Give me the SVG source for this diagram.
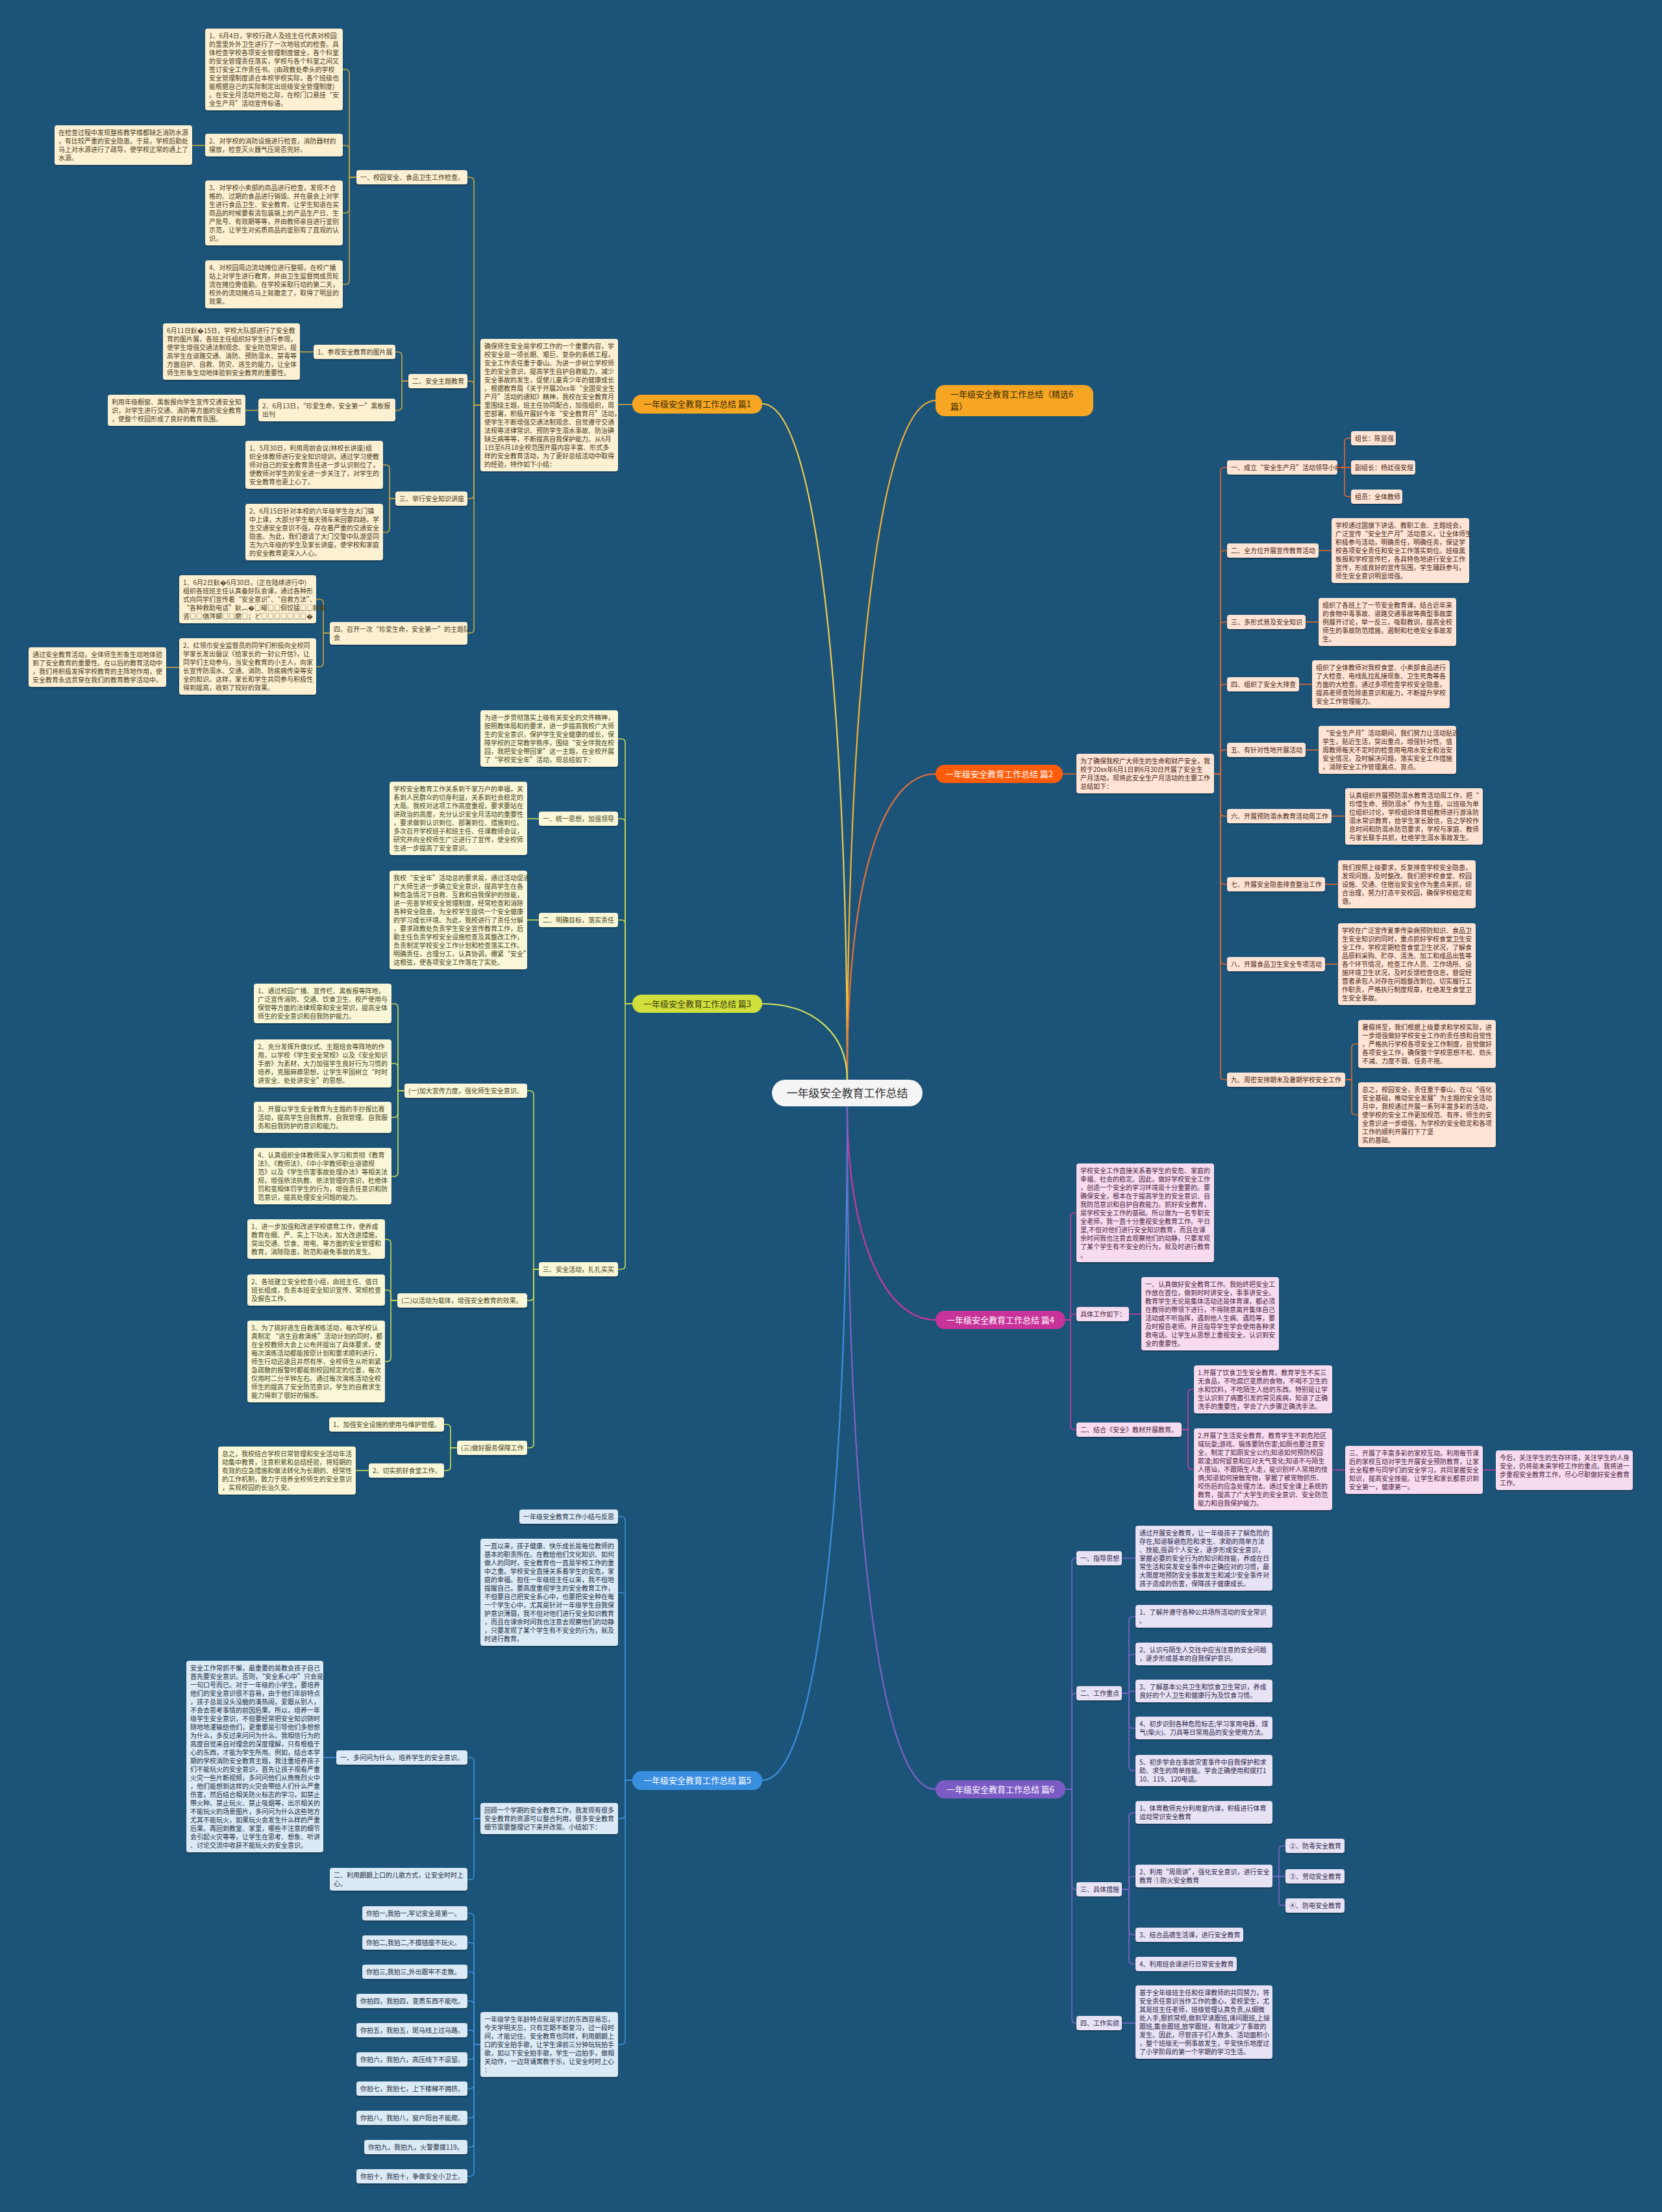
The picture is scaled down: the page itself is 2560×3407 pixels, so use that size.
<svg xmlns="http://www.w3.org/2000/svg" width="2560" height="3407" viewBox="0 0 2560 3407">
<defs>
<filter id="sh" x="-5%" y="-10%" width="110%" height="130%"><feDropShadow dx="0" dy="1.5" stdDeviation="1" flood-color="#000" flood-opacity="0.35"/></filter>
<style>
text{font-family:"Noto Sans CJK SC","Noto Sans","Liberation Sans",sans-serif;font-size:10px}
.n rect{rx:4px;filter:url(#sh)}
.k1 rect{fill:#fcf0d3}.k1 text{fill:#4a3c1c}
.k2 rect{fill:#fde4d5}.k2 text{fill:#4b2716}
.k3 rect{fill:#f9f7d8}.k3 text{fill:#474620}
.k4 rect{fill:#f7dbef}.k4 text{fill:#4a1f3e}
.k5 rect{fill:#dceaf6}.k5 text{fill:#1e2e44}
.k6 rect{fill:#e8e2f5}.k6 text{fill:#2e2748}
.lb text{font-size:13px}
.lb rect{rx:14px}
</style>
</defs>
<rect width="2560" height="3407" fill="#1c5479"/>
<g id="connectors" fill="none" stroke-width="1.6">
<path d="M1305,1663 C1305,1100 1260,622 1174,622" stroke="#f2c94c" stroke-width="2.2"/>
<path d="M1305,1663 C1305,1100 1350,617 1441,617" stroke="#f5b033" stroke-width="2.2"/>
<path d="M1305,1663 C1305,1350 1360,1192 1441,1192" stroke="#e8703a" stroke-width="2.2"/>
<path d="M1305,1663 C1305,1590 1250,1546 1174,1546" stroke="#d5e35a" stroke-width="2.2"/>
<path d="M1305,1704 C1305,1900 1360,2033 1441,2033" stroke="#c8399e" stroke-width="2.2"/>
<path d="M1305,1704 C1305,2300 1260,2742 1174,2742" stroke="#3d8fdc" stroke-width="2.2"/>
<path d="M1305,1704 C1305,2300 1350,2756 1441,2756" stroke="#7d62c8" stroke-width="2.2"/>
<g stroke="#c9a63e">
<path d="M974,623H952"/>
<path d="M740,624H730V279Q730,273 724,273H720"/>
<path d="M740,624H730V593Q730,587 724,587H720"/>
<path d="M740,624H730V762Q730,768 724,768H720"/>
<path d="M740,624H730V969Q730,975 724,975H720"/>
<path d="M549,273H538V113Q538,107 532,107H528"/>
<path d="M549,273H538V230Q538,224 532,224H528"/>
<path d="M549,273H538V322Q538,328 532,328H528"/>
<path d="M549,273H538V432Q538,438 532,438H528"/>
<path d="M316,224H296"/>
<path d="M629,587H619V548Q619,542 613,542H609"/>
<path d="M629,587H619V626Q619,632 613,632H609"/>
<path d="M483,542H462"/>
<path d="M398,632H378"/>
<path d="M609,768H600V722Q600,716 594,716H590"/>
<path d="M609,768H600V814Q600,820 594,820H590"/>
<path d="M508,975H498V929Q498,923 492,923H487"/>
<path d="M508,975H498V1021Q498,1027 492,1027H487"/>
<path d="M276,1028H256"/>
</g>
<g stroke="#c8dd52">
<path d="M974,1546H963V1144Q963,1138 957,1138H952"/>
<path d="M974,1546H963V1267Q963,1261 957,1261H952"/>
<path d="M974,1546H963V1423Q963,1417 957,1417H952"/>
<path d="M974,1546H963V1949Q963,1955 957,1955H952"/>
<path d="M830,1261H812"/>
<path d="M830,1417H812"/>
<path d="M830,1955H822V1686Q822,1680 816,1680H812"/>
<path d="M830,1955H822V1997Q822,2003 816,2003H812"/>
<path d="M830,1955H822V2224Q822,2230 816,2230H812"/>
<path d="M623,1680H613V1552Q613,1546 607,1546H603"/>
<path d="M623,1680H613V1644Q613,1638 607,1638H603"/>
<path d="M623,1680H613V1715Q613,1721 607,1721H603"/>
<path d="M623,1680H613V1806Q613,1812 607,1812H603"/>
<path d="M612,2003H602V1915Q602,1909 596,1909H593"/>
<path d="M612,2003H602V1993Q602,1987 596,1987H593"/>
<path d="M612,2003H602V2091Q602,2097 596,2097H593"/>
<path d="M704,2230H694V2200Q694,2194 688,2194H684"/>
<path d="M704,2230H694V2259Q694,2265 688,2265H684"/>
<path d="M568,2265H548"/>
</g>
<g stroke="#3c8fdc">
<path d="M974,2742H963V2342Q963,2336 957,2336H952"/>
<path d="M974,2742H963V2459Q963,2453 957,2453H952"/>
<path d="M974,2742H963V2795Q963,2801 957,2801H952"/>
<path d="M974,2742H963V3143Q963,3149 957,3149H952"/>
<path d="M740,2801H730V2713Q730,2707 724,2707H720"/>
<path d="M740,2801H730V2889Q730,2895 724,2895H720"/>
<path d="M518,2707H498"/>
<path d="M740,3149H730V2953Q730,2947 724,2947H720"/>
<path d="M740,3149H730V2998Q730,2992 724,2992H720"/>
<path d="M740,3149H730V3043Q730,3037 724,3037H720"/>
<path d="M740,3149H730V3088Q730,3082 724,3082H720"/>
<path d="M740,3149H730V3133Q730,3127 724,3127H720"/>
<path d="M740,3149H730V3166Q730,3172 724,3172H720"/>
<path d="M740,3149H730V3211Q730,3217 724,3217H720"/>
<path d="M740,3149H730V3256Q730,3262 724,3262H720"/>
<path d="M740,3149H730V3301Q730,3307 724,3307H720"/>
<path d="M740,3149H730V3346Q730,3352 724,3352H720"/>
</g>
<g stroke="#e0692d">
<path d="M1637,1192H1658"/>
<path d="M1870,1192H1880V726Q1880,720 1886,720H1890"/>
<path d="M1870,1192H1880V854Q1880,848 1886,848H1890"/>
<path d="M1870,1192H1880V964Q1880,958 1886,958H1890"/>
<path d="M1870,1192H1880V1060Q1880,1054 1886,1054H1890"/>
<path d="M1870,1192H1880V1161Q1880,1155 1886,1155H1890"/>
<path d="M1870,1192H1880V1251Q1880,1257 1886,1257H1890"/>
<path d="M1870,1192H1880V1356Q1880,1362 1886,1362H1890"/>
<path d="M1870,1192H1880V1479Q1880,1485 1886,1485H1890"/>
<path d="M1870,1192H1880V1657Q1880,1663 1886,1663H1890"/>
<path d="M2060,720H2071V681Q2071,675 2077,675H2081"/>
<path d="M2060,720H2081"/>
<path d="M2060,720H2071V759Q2071,765 2077,765H2081"/>
<path d="M2031,848H2051"/>
<path d="M2011,958H2031"/>
<path d="M2001,1054H2021"/>
<path d="M2011,1155H2031"/>
<path d="M2051,1257H2072"/>
<path d="M2041,1362H2061"/>
<path d="M2041,1485H2061"/>
<path d="M2072,1663H2082V1614Q2082,1608 2088,1608H2092"/>
<path d="M2072,1663H2082V1711Q2082,1717 2088,1717H2092"/>
</g>
<g stroke="#c43d9d">
<path d="M1641,2033H1649V1874Q1649,1868 1655,1868H1658"/>
<path d="M1641,2033H1649V2030Q1649,2024 1655,2024H1658"/>
<path d="M1641,2033H1649V2196Q1649,2202 1655,2202H1658"/>
<path d="M1739,2024H1758"/>
<path d="M1820,2202H1830V2146Q1830,2140 1836,2140H1839"/>
<path d="M1820,2202H1830V2257Q1830,2263 1836,2263H1839"/>
<path d="M2052,2264H2072"/>
<path d="M2284,2264H2304"/>
</g>
<g stroke="#7b65c9">
<path d="M1641,2756H1651V2406Q1651,2400 1657,2400H1658"/>
<path d="M1641,2756H1651V2614Q1651,2608 1657,2608H1658"/>
<path d="M1641,2756H1651V2904Q1651,2910 1657,2910H1658"/>
<path d="M1641,2756H1651V3110Q1651,3116 1657,3116H1658"/>
<path d="M1728,2400H1749"/>
<path d="M1728,2608H1739V2496Q1739,2490 1745,2490H1749"/>
<path d="M1728,2608H1739V2554Q1739,2548 1745,2548H1749"/>
<path d="M1728,2608H1739V2605H1749"/>
<path d="M1728,2608H1739V2656Q1739,2662 1745,2662H1749"/>
<path d="M1728,2608H1739V2721Q1739,2727 1745,2727H1749"/>
<path d="M1728,2910H1739V2798Q1739,2792 1745,2792H1749"/>
<path d="M1728,2910H1739V2896Q1739,2890 1745,2890H1749"/>
<path d="M1728,2910H1739V2974Q1739,2980 1745,2980H1749"/>
<path d="M1728,2910H1739V3019Q1739,3025 1745,3025H1749"/>
<path d="M1960,2890H1970V2849Q1970,2843 1976,2843H1980"/>
<path d="M1960,2890H1980"/>
<path d="M1960,2890H1970V2929Q1970,2935 1976,2935H1980"/>
<path d="M1728,3116H1749"/>
</g>
</g>

<g id="root"><rect x="1189" y="1663" width="232" height="41" rx="20.5" fill="#f5f5f5"/><text x="1305" y="1690" text-anchor="middle" style="font-size:17px" fill="#333">一年级安全教育工作总结</text></g>

<g id="b1" class="lb"><rect x="974" y="608" width="200" height="29" fill="#f6a623"/><text x="1074" y="627" text-anchor="middle" fill="#3a2a05">一年级安全教育工作总结 篇1</text></g>
<g id="b0" class="lb"><rect x="1441" y="593" width="243" height="48" fill="#f6a623"/><text x="1464" y="612" fill="#3a2a05"><tspan x="1464">一年级安全教育工作总结（精选6</tspan><tspan x="1464" dy="19">篇）</tspan></text></g>
<g id="b2" class="lb"><rect x="1441" y="1178" width="196" height="28" fill="#ff5c0a"/><text x="1539" y="1197" text-anchor="middle" fill="#fff">一年级安全教育工作总结 篇2</text></g>
<g id="b3" class="lb"><rect x="974" y="1532" width="200" height="28" fill="#cfdf3c"/><text x="1074" y="1551" text-anchor="middle" fill="#3a3a10">一年级安全教育工作总结 篇3</text></g>
<g id="b4" class="lb"><rect x="1441" y="2019" width="200" height="28" fill="#c8339a"/><text x="1541" y="2038" text-anchor="middle" fill="#fff">一年级安全教育工作总结 篇4</text></g>
<g id="b5" class="lb"><rect x="974" y="2728" width="200" height="29" fill="#3a8ee0"/><text x="1074" y="2747" text-anchor="middle" fill="#fff">一年级安全教育工作总结 篇5</text></g>
<g id="b6" class="lb"><rect x="1441" y="2742" width="200" height="28" fill="#7c5cc4"/><text x="1541" y="2761" text-anchor="middle" fill="#fff">一年级安全教育工作总结 篇6</text></g>

<!-- 篇1 -->
<g id="p1-intro" class="n k1"><rect x="740" y="522" width="212" height="204"/><text y="537"><tspan x="746">确保师生安全是学校工作的一个重要内容，学</tspan><tspan x="746" dy="13">校安全是一项长期、艰巨、复杂的系统工程，</tspan><tspan x="746" dy="13">安全工作责任重于泰山。为进一步树立学校师</tspan><tspan x="746" dy="13">生的安全意识，提高学生自护自救能力，减少</tspan><tspan x="746" dy="13">安全事故的发生，促使儿童青少年的健康成长</tspan><tspan x="746" dy="13">。根据教育局《关于开展20xx年“全国安全生</tspan><tspan x="746" dy="13">产月”活动的通知》精神，我校在安全教育月</tspan><tspan x="746" dy="13">里围绕主题，班主任协同配合，加强组织，周</tspan><tspan x="746" dy="13">密部署，积极开展好今年“安全教育月”活动，</tspan><tspan x="746" dy="13">使学生不断增强交通法制观念、自觉遵守交通</tspan><tspan x="746" dy="13">法规等法律常识、预防学生溺水事故、防治碘</tspan><tspan x="746" dy="13">缺乏病等等，不断提高自我保护能力。从6月</tspan><tspan x="746" dy="13">1日至6月18全校范围开展内容丰富、形式多</tspan><tspan x="746" dy="13">样的安全教育活动，为了更好总结活动中取得</tspan><tspan x="746" dy="13">的经验，特作如下小结：</tspan></text></g>
<g id="p1-s1" class="n k1"><rect x="549" y="262" width="171" height="22"/><text x="555" y="277">一、校园安全、食品卫生工作检查。</text></g>
<g id="p1-s2" class="n k1"><rect x="629" y="576" width="91" height="22"/><text x="635" y="591">二、安全主题教育</text></g>
<g id="p1-s3" class="n k1"><rect x="609" y="757" width="111" height="22"/><text x="615" y="772">三、举行安全知识讲座</text></g>
<g id="p1-s4" class="n k1"><rect x="508" y="958" width="212" height="35"/><text y="973"><tspan x="514">四、召开一次“珍爱生命，安全第一”的主题队</tspan><tspan x="514" dy="13">会</tspan></text></g>
<g id="p1-s1c1" class="n k1"><rect x="316" y="44" width="212" height="126"/><text y="59"><tspan x="322">1、6月4日，学校行政人及班主任代表对校园</tspan><tspan x="322" dy="13">的里里外外卫生进行了一次地毯式的检查。具</tspan><tspan x="322" dy="13">体检查学校各项安全管理制度健全，各个科室</tspan><tspan x="322" dy="13">的安全管理责任落实，学校与各个科室之间又</tspan><tspan x="322" dy="13">签订安全工作责任书。(由政教处牵头的学校</tspan><tspan x="322" dy="13">安全管理制度适合本校学校实际，各个班级也</tspan><tspan x="322" dy="13">能根据自己的实际制定出班级安全管理制度)</tspan><tspan x="322" dy="13">。在安全月活动开始之际，在校门口悬挂“安</tspan><tspan x="322" dy="13">全生产月”活动宣传标语。</tspan></text></g>
<g id="p1-s1c2" class="n k1"><rect x="316" y="206" width="212" height="35"/><text y="221"><tspan x="322">2、对学校的消防设施进行检查，消防器材的</tspan><tspan x="322" dy="13">摆放，检查灭火器气压是否完好。</tspan></text></g>
<g id="p1-s1c2g" class="n k1"><rect x="84" y="193" width="212" height="61"/><text y="208"><tspan x="90">在检查过程中发现整栋教学楼都缺乏消防水源</tspan><tspan x="90" dy="13">，有比较严重的安全隐患。于是，学校后勤处</tspan><tspan x="90" dy="13">马上对水源进行了疏导，使学校正常的通上了</tspan><tspan x="90" dy="13">水源。</tspan></text></g>
<g id="p1-s1c3" class="n k1"><rect x="316" y="278" width="212" height="100"/><text y="293"><tspan x="322">3、对学校小卖部的商品进行检查，发现不合</tspan><tspan x="322" dy="13">格的、过期的食品进行销毁。并在晨会上对学</tspan><tspan x="322" dy="13">生进行食品卫生、安全教育。让学生知道在买</tspan><tspan x="322" dy="13">商品的时候要看清包装袋上的产品生产日、生</tspan><tspan x="322" dy="13">产批号、有效期等等，并由教师亲自进行鉴别</tspan><tspan x="322" dy="13">示范，让学生对劣质商品的鉴别有了直观的认</tspan><tspan x="322" dy="13">识。</tspan></text></g>
<g id="p1-s1c4" class="n k1"><rect x="316" y="401" width="212" height="74"/><text y="416"><tspan x="322">4、对校园周边流动摊位进行整顿，在校广播</tspan><tspan x="322" dy="13">站上对学生进行教育，并由卫生监督岗成员轮</tspan><tspan x="322" dy="13">流在摊位旁值勤。在学校采取行动的第二天，</tspan><tspan x="322" dy="13">校外的流动摊点马上就撤走了，取得了明显的</tspan><tspan x="322" dy="13">效果。</tspan></text></g>
<g id="p1-s2c1" class="n k1"><rect x="483" y="531" width="126" height="22"/><text x="489" y="546">1、参观安全教育的图片展</text></g>
<g id="p1-s2c1g" class="n k1"><rect x="251" y="498" width="211" height="87"/><text y="513"><tspan x="257">6月11日鈥�15日，学校大队部进行了安全教</tspan><tspan x="257" dy="13">育的图片展，各班主任组织好学生进行参观，</tspan><tspan x="257" dy="13">使学生增强交通法制观念、安全防范常识，提</tspan><tspan x="257" dy="13">高学生在道路交通、消防、预防溺水、禁毒等</tspan><tspan x="257" dy="13">方面自护、自救、防灾、逃生的能力，让全体</tspan><tspan x="257" dy="13">师生形象生动地体验到安全教育的重要性。</tspan></text></g>
<g id="p1-s2c2" class="n k1"><rect x="398" y="614" width="211" height="35"/><text y="629"><tspan x="404">2、6月13日，“珍爱生命，安全第一”黑板报</tspan><tspan x="404" dy="13">出刊</tspan></text></g>
<g id="p1-s2c2g" class="n k1"><rect x="166" y="608" width="212" height="48"/><text y="623"><tspan x="172">利用年级橱窗、黑板报向学生宣传交通安全知</tspan><tspan x="172" dy="13">识，对学生进行交通、消防等方面的安全教育</tspan><tspan x="172" dy="13">，使整个校园形成了良好的教育氛围。</tspan></text></g>
<g id="p1-s3c1" class="n k1"><rect x="378" y="679" width="212" height="74"/><text y="694"><tspan x="384">1、5月30日，利用周前会议(林校长讲座)组</tspan><tspan x="384" dy="13">织全体教师进行安全知识培训，通过学习使教</tspan><tspan x="384" dy="13">师对自己的安全教育责任进一步认识到位了，</tspan><tspan x="384" dy="13">使教师对学生的安全进一步关注了，对学生的</tspan><tspan x="384" dy="13">安全教育也更上心了。</tspan></text></g>
<g id="p1-s3c2" class="n k1"><rect x="378" y="776" width="212" height="87"/><text y="791"><tspan x="384">2、6月15日针对本校的六年级学生在大门镇</tspan><tspan x="384" dy="13">中上课，大部分学生每天骑车来回要四趟，学</tspan><tspan x="384" dy="13">生交通安全意识不强，存在着严重的交通安全</tspan><tspan x="384" dy="13">隐患。为此，我们邀请了大门交警中队游坚同</tspan><tspan x="384" dy="13">志为六年级的学生及家长讲座，使学校和家庭</tspan><tspan x="384" dy="13">的安全教育更深入人心。</tspan></text></g>
<g id="p1-s4c1" class="n k1"><rect x="276" y="886" width="211" height="74"/><text y="901"><tspan x="282">1、6月2日鈥�6月30日，(正在陆续进行中)</tspan><tspan x="282" dy="13">组织各班班主任认真备好队会课，通过各种形</tspan><tspan x="282" dy="13">式向同学们宣传着“安全意识”、“自救方法”、</tspan><tspan x="282" dy="13">“各种救助电话”鈥︹�□曜□□佪饺猛□□敍柤</tspan><tspan x="282" dy="13">咨□□偤涔蝍□□磨□；ど□□□□□□□�</tspan></text></g>
<g id="p1-s4c2" class="n k1"><rect x="276" y="983" width="211" height="87"/><text y="998"><tspan x="282">2、红领巾安全监督员的同学们积极向全校同</tspan><tspan x="282" dy="13">学家长发出倡议《给家长的一封公开信》，让</tspan><tspan x="282" dy="13">同学们主动参与，当安全教育的小主人，向家</tspan><tspan x="282" dy="13">长宣传防溺水、交通、消防、防疾病传染等安</tspan><tspan x="282" dy="13">全的知识。这样，家长和学生共同参与积极性</tspan><tspan x="282" dy="13">得到提高，收到了较好的效果。</tspan></text></g>
<g id="p1-s4c2g" class="n k1"><rect x="44" y="997" width="212" height="61"/><text y="1012"><tspan x="50">通过安全教育活动，全体师生形象生动地体验</tspan><tspan x="50" dy="13">到了安全教育的重要性。在以后的教育活动中</tspan><tspan x="50" dy="13">，我们将积极发挥学校教育的主阵地作用，使</tspan><tspan x="50" dy="13">安全教育永远贯穿在我们的教育教学活动中。</tspan></text></g>

<!-- 篇3 -->
<g id="p3-intro" class="n k3"><rect x="740" y="1094" width="212" height="87"/><text y="1109"><tspan x="746">为进一步贯彻落实上级有关安全的文件精神，</tspan><tspan x="746" dy="13">按照教体局和的要求，进一步提高我校广大师</tspan><tspan x="746" dy="13">生的安全意识，保护学生安全健康的成长，保</tspan><tspan x="746" dy="13">障学校的正常教学秩序，围绕“安全伴我在校</tspan><tspan x="746" dy="13">园，我把安全带回家”这一主题，在全校开展</tspan><tspan x="746" dy="13">了“学校安全年”活动，现总结如下：</tspan></text></g>
<g id="p3-t1" class="n k3"><rect x="830" y="1250" width="122" height="22"/><text x="836" y="1265">一、统一思想，加强领导</text></g>
<g id="p3-t1c" class="n k3"><rect x="600" y="1204" width="212" height="113"/><text y="1219"><tspan x="606">学校安全教育工作关系到千家万户的幸福，关</tspan><tspan x="606" dy="13">系到人民群众的切身利益，关系到社会稳定的</tspan><tspan x="606" dy="13">大局。我校对这项工作高度重视，要求要站在</tspan><tspan x="606" dy="13">讲政治的高度，充分认识安全月活动的重要性</tspan><tspan x="606" dy="13">，要求做到认识到位、部署到位、措施到位。</tspan><tspan x="606" dy="13">多次召开学校班子和班主任、任课教师会议，</tspan><tspan x="606" dy="13">研究并向全校师生广泛进行了宣传，使全校师</tspan><tspan x="606" dy="13">生进一步提高了安全意识。</tspan></text></g>
<g id="p3-t2" class="n k3"><rect x="830" y="1406" width="122" height="22"/><text x="836" y="1421">二、明确目标，落实责任</text></g>
<g id="p3-t2c" class="n k3"><rect x="600" y="1341" width="212" height="152"/><text y="1356"><tspan x="606">我校“安全年”活动总的要求是，通过活动促进</tspan><tspan x="606" dy="13">广大师生进一步确立安全意识，提高学生在各</tspan><tspan x="606" dy="13">种危急情况下自救、互救和自我保护的技能，</tspan><tspan x="606" dy="13">进一完善学校安全管理制度，经常检查和消除</tspan><tspan x="606" dy="13">各种安全隐患，为全校学生提供一个安全健康</tspan><tspan x="606" dy="13">的学习成长环境。为此，我校进行了责任分解</tspan><tspan x="606" dy="13">，要求政教处负责学生安全宣传教育工作，后</tspan><tspan x="606" dy="13">勤主任负责学校安全设施检查及其整改工作，</tspan><tspan x="606" dy="13">负责制定学校安全工作计划和检查落实工作。</tspan><tspan x="606" dy="13">明确责任，合理分工，认真协调，绷紧“安全”</tspan><tspan x="606" dy="13">这根弦，使各项安全工作落在了实处。</tspan></text></g>
<g id="p3-t3" class="n k3"><rect x="830" y="1944" width="122" height="22"/><text x="836" y="1959">三、安全活动，扎扎实实</text></g>
<g id="p3-a" class="n k3"><rect x="623" y="1669" width="189" height="22"/><text x="629" y="1684">(一)加大宣传力度，强化师生安全意识。</text></g>
<g id="p3-a1" class="n k3"><rect x="391" y="1515" width="212" height="61"/><text y="1530"><tspan x="397">1、通过校园广播、宣传栏、黑板报等阵地，</tspan><tspan x="397" dy="13">广泛宣传消防、交通、饮食卫生、校产使用与</tspan><tspan x="397" dy="13">保管等方面的法律规章和安全常识，提高全体</tspan><tspan x="397" dy="13">师生的安全意识和自我防护能力。</tspan></text></g>
<g id="p3-a2" class="n k3"><rect x="391" y="1601" width="212" height="74"/><text y="1616"><tspan x="397">2、充分发挥升旗仪式、主题班会等阵地的作</tspan><tspan x="397" dy="13">用，以学校《学生安全常规》以及《安全知识</tspan><tspan x="397" dy="13">手册》为素材，大力加强学生良好行为习惯的</tspan><tspan x="397" dy="13">培养，克服麻痹思想，让学生牢固树立“时时</tspan><tspan x="397" dy="13">讲安全、处处讲安全”的思想。</tspan></text></g>
<g id="p3-a3" class="n k3"><rect x="391" y="1697" width="212" height="48"/><text y="1712"><tspan x="397">3、开展以学生安全教育为主题的手抄报比赛</tspan><tspan x="397" dy="13">活动，提高学生自我教育、自我管理、自我服</tspan><tspan x="397" dy="13">务和自我防护的意识和能力。</tspan></text></g>
<g id="p3-a4" class="n k3"><rect x="391" y="1768" width="212" height="87"/><text y="1783"><tspan x="397">4、认真组织全体教师深入学习和贯彻《教育</tspan><tspan x="397" dy="13">法》、《教师法》、《中小学教师职业道德规</tspan><tspan x="397" dy="13">范》以及《学生伤害事故处理办法》等相关法</tspan><tspan x="397" dy="13">规，增强依法执教、依法管理的意识，杜绝体</tspan><tspan x="397" dy="13">罚和变相体罚学生的行为，增强责任意识和防</tspan><tspan x="397" dy="13">范意识，提高处理安全问题的能力。</tspan></text></g>
<g id="p3-b" class="n k3"><rect x="612" y="1992" width="200" height="22"/><text x="618" y="2007">(二)以活动为载体，增强安全教育的效果。</text></g>
<g id="p3-b1" class="n k3"><rect x="381" y="1878" width="212" height="61"/><text y="1893"><tspan x="387">1、进一步加强和改进学校德育工作，使养成</tspan><tspan x="387" dy="13">教育在细、严、实上下功夫，加大改进措施，</tspan><tspan x="387" dy="13">突出交通、饮食、用电、等方面的安全管理和</tspan><tspan x="387" dy="13">教育，消除隐患，防范和避免事故的发生。</tspan></text></g>
<g id="p3-b2" class="n k3"><rect x="381" y="1963" width="212" height="48"/><text y="1978"><tspan x="387">2、各班建立安全检查小组，由班主任、值日</tspan><tspan x="387" dy="13">班长组成，负责本班安全知识宣传、常规检查</tspan><tspan x="387" dy="13">及报告工作。</tspan></text></g>
<g id="p3-b3" class="n k3"><rect x="381" y="2034" width="212" height="126"/><text y="2049"><tspan x="387">3、为了搞好逃生自救演练活动，每次学校认</tspan><tspan x="387" dy="13">真制定 “逃生自救演练”活动计划的同时，都</tspan><tspan x="387" dy="13">在全校教师大会上公布并提出了具体要求，使</tspan><tspan x="387" dy="13">每次演练活动都能按原计划和要求顺利进行，</tspan><tspan x="387" dy="13">师生行动迅速且井然有序，全校师生从听到紧</tspan><tspan x="387" dy="13">急疏散的报警时都能到校园规定的位置，每次</tspan><tspan x="387" dy="13">仅用时二分半钟左右。通过每次演练活动全校</tspan><tspan x="387" dy="13">师生的提高了安全防范意识，学生的自救求生</tspan><tspan x="387" dy="13">能力得到了很好的锻炼。</tspan></text></g>
<g id="p3-c" class="n k3"><rect x="704" y="2219" width="108" height="22"/><text x="710" y="2234">(三)做好服务保障工作</text></g>
<g id="p3-c1" class="n k3"><rect x="507" y="2183" width="177" height="22"/><text x="513" y="2198">1、加强安全设施的使用与维护管理。</text></g>
<g id="p3-c2" class="n k3"><rect x="568" y="2254" width="116" height="22"/><text x="574" y="2269">2、切实抓好食堂工作。</text></g>
<g id="p3-c2g" class="n k3"><rect x="336" y="2228" width="212" height="74"/><text y="2243"><tspan x="342">总之，我校结合学校日常管理和安全活动年活</tspan><tspan x="342" dy="13">动集中教育，注意积累和总结经验，将短期的</tspan><tspan x="342" dy="13">有效的应急措施和做法转化为长期的、经常性</tspan><tspan x="342" dy="13">的工作机制，致力于培养全校师生的安全意识</tspan><tspan x="342" dy="13">，实现校园的长治久安。</tspan></text></g>

<!-- 篇5 -->
<g id="p5-r1" class="n k5"><rect x="800" y="2325" width="152" height="22"/><text x="806" y="2340">一年级安全教育工作小结与反思</text></g>
<g id="p5-r2" class="n k5"><rect x="740" y="2370" width="212" height="165"/><text y="2385"><tspan x="746">一直以来，孩子健康、快乐成长是每位教师的</tspan><tspan x="746" dy="13">基本的职责所在。在教给他们文化知识、如何</tspan><tspan x="746" dy="13">做人的同时，安全教育也一直是学校工作的重</tspan><tspan x="746" dy="13">中之重。学校安全直接关系着学生的安危，家</tspan><tspan x="746" dy="13">庭的幸福。担任一年级班主任以来，我不但地</tspan><tspan x="746" dy="13">提醒自己，要高度重视学生的安全教育工作，</tspan><tspan x="746" dy="13">不但要自己把安全系心中，也要把安全种在每</tspan><tspan x="746" dy="13">一个学生心中，尤其是针对一年级学生自我保</tspan><tspan x="746" dy="13">护意识薄弱，我不但对他们进行安全知识教育</tspan><tspan x="746" dy="13">，而且在课余时间我也注意去观察他们的动静</tspan><tspan x="746" dy="13">，只要发现了某个学生有不安全的行为，就及</tspan><tspan x="746" dy="13">时进行教育。</tspan></text></g>
<g id="p5-r3" class="n k5"><rect x="740" y="2777" width="212" height="48"/><text y="2792"><tspan x="746">回顾一个学期的安全教育工作，我发现有很多</tspan><tspan x="746" dy="13">安全教育的资源可以整合利用，很多安全教育</tspan><tspan x="746" dy="13">细节需要整理记下来并改需。小结如下：</tspan></text></g>
<g id="p5-r3a" class="n k5"><rect x="518" y="2696" width="202" height="22"/><text x="524" y="2711">一、多问问为什么，培养学生的安全意识。</text></g>
<g id="p5-r3a1" class="n k5"><rect x="287" y="2558" width="211" height="295"/><text y="2573"><tspan x="293">安全工作常抓不懈，最重要的是教会孩子自己</tspan><tspan x="293" dy="13">首先要安全意识。否则，“安全系心中”只会是</tspan><tspan x="293" dy="13">一句口号而已。对于一年级的小学生，要培养</tspan><tspan x="293" dy="13">他们的安全意识很不容易，由于他们年龄特点</tspan><tspan x="293" dy="13">，孩子总是没头没脑的凑热闹，爱跟从别人，</tspan><tspan x="293" dy="13">不会去思考事情的前因后果。所以，培养一年</tspan><tspan x="293" dy="13">级学生安全意识，不但要经常把安全知识随时</tspan><tspan x="293" dy="13">随地地灌输给他们，更重要是引导他们多想想</tspan><tspan x="293" dy="13">为什么，多反过来问问为什么。我相信行为的</tspan><tspan x="293" dy="13">高度自觉来自对理念的深度理解，只有根植于</tspan><tspan x="293" dy="13">心的东西，才能为学生所用。例如，结合本学</tspan><tspan x="293" dy="13">期的学校消防安全教育主题，我注重培养孩子</tspan><tspan x="293" dy="13">们不能玩火的安全意识，首先让孩子观看严重</tspan><tspan x="293" dy="13">火灾一些片断视频，多问问他们从熊熊烈火中</tspan><tspan x="293" dy="13">，他们能想到这样的火灾会带给人们什么严重</tspan><tspan x="293" dy="13">伤害，然后结合相关防火标志的学习，如禁止</tspan><tspan x="293" dy="13">带火种、禁止玩火、禁止吸烟等，出示相关的</tspan><tspan x="293" dy="13">不能玩火的场景图片，多问问为什么这些地方</tspan><tspan x="293" dy="13">尤其不能玩火，如果玩火会发生什么样的严重</tspan><tspan x="293" dy="13">后果。再回到教室、家里，哪些不注意的细节</tspan><tspan x="293" dy="13">会引起火灾等等，让学生在思考、想象、听讲</tspan><tspan x="293" dy="13">、讨论交流中收获不能玩火的安全意识。</tspan></text></g>
<g id="p5-r3b" class="n k5"><rect x="508" y="2877" width="212" height="35"/><text y="2892"><tspan x="514">二、利用朗朗上口的儿歌方式，让安全时时上</tspan><tspan x="514" dy="13">心。</tspan></text></g>
<g id="p5-r4" class="n k5"><rect x="740" y="3099" width="212" height="100"/><text y="3114"><tspan x="746">一年级学生年龄特点就是学过的东西容易忘，</tspan><tspan x="746" dy="13">今天学明天忘，只有定期不断复习，过一段时</tspan><tspan x="746" dy="13">间，才能记住。安全教育也同样，利用朗朗上</tspan><tspan x="746" dy="13">口的安全拍手歌，让学生课前三分钟玩玩拍手</tspan><tspan x="746" dy="13">歌，如以下安全拍手歌，学生一边拍手，做相</tspan><tspan x="746" dy="13">关动作，一边背诵寓教于乐，让安全时时上心</tspan><tspan x="746" dy="13">：</tspan></text></g>
<g id="p5-k1" class="n k5"><rect x="558" y="2936" width="162" height="22"/><text x="564" y="2951">你拍一,我拍一,牢记安全是第一。</text></g>
<g id="p5-k2" class="n k5"><rect x="558" y="2981" width="162" height="22"/><text x="564" y="2996">你拍二,我拍二,不摸插座不玩火。</text></g>
<g id="p5-k3" class="n k5"><rect x="558" y="3026" width="162" height="22"/><text x="564" y="3041">你拍三,我拍三,外出跟牢不走散。</text></g>
<g id="p5-k4" class="n k5"><rect x="549" y="3071" width="171" height="22"/><text x="555" y="3086">你拍四，我拍四，变质东西不能吃。</text></g>
<g id="p5-k5" class="n k5"><rect x="549" y="3116" width="171" height="22"/><text x="555" y="3131">你拍五，我拍五，斑马线上过马路。</text></g>
<g id="p5-k6" class="n k5"><rect x="549" y="3161" width="171" height="22"/><text x="555" y="3176">你拍六，我拍六，高压线下不逗留。</text></g>
<g id="p5-k7" class="n k5"><rect x="549" y="3206" width="171" height="22"/><text x="555" y="3221">你拍七，我拍七，上下楼梯不拥挤。</text></g>
<g id="p5-k8" class="n k5"><rect x="549" y="3251" width="171" height="22"/><text x="555" y="3266">你拍八，我拍八，窗户阳台不能爬。</text></g>
<g id="p5-k9" class="n k5"><rect x="561" y="3296" width="159" height="22"/><text x="567" y="3311">你拍九，我拍九，火警要拨119。</text></g>
<g id="p5-k10" class="n k5"><rect x="549" y="3341" width="171" height="22"/><text x="555" y="3356">你拍十，我拍十，争做安全小卫士。</text></g>

<!-- 篇2 -->
<g id="p2-intro" class="n k2"><rect x="1658" y="1161" width="212" height="61"/><text y="1176"><tspan x="1664">为了确保我校广大师生的生命和财产安全，我</tspan><tspan x="1664" dy="13">校于20xx年6月1日到6月30日开展了安全生</tspan><tspan x="1664" dy="13">产月活动，现将此安全生产月活动的主要工作</tspan><tspan x="1664" dy="13">总结如下：</tspan></text></g>
<g id="p2-s1" class="n k2"><rect x="1890" y="709" width="170" height="22"/><text x="1896" y="724">一、成立“安全生产月”活动领导小组</text></g>
<g id="p2-s1a" class="n k2"><rect x="2081" y="664" width="69" height="22"/><text x="2087" y="679">组长：陈显强</text></g>
<g id="p2-s1b" class="n k2"><rect x="2081" y="709" width="99" height="22"/><text x="2087" y="724">副组长：杨廷强安煜</text></g>
<g id="p2-s1c" class="n k2"><rect x="2081" y="754" width="79" height="22"/><text x="2087" y="769">组员：全体教师</text></g>
<g id="p2-s2" class="n k2"><rect x="1890" y="837" width="141" height="22"/><text x="1896" y="852">二、全方位开展宣传教育活动</text></g>
<g id="p2-s2c" class="n k2"><rect x="2051" y="798" width="212" height="100"/><text y="813"><tspan x="2057">学校通过国旗下讲话、教职工会、主题班会，</tspan><tspan x="2057" dy="13">广泛宣传“安全生产月”活动意义，让全体师生</tspan><tspan x="2057" dy="13">积极参与活动，明确责任，明确任务，保证学</tspan><tspan x="2057" dy="13">校各项安全责任和安全工作落实到位。班级黑</tspan><tspan x="2057" dy="13">板报和学校宣传栏，各具特色地进行安全工作</tspan><tspan x="2057" dy="13">宣传，形成良好的宣传氛围，学生踊跃参与，</tspan><tspan x="2057" dy="13">师生安全意识明显增强。</tspan></text></g>
<g id="p2-s3" class="n k2"><rect x="1890" y="947" width="121" height="22"/><text x="1896" y="962">三、多形式普及安全知识</text></g>
<g id="p2-s3c" class="n k2"><rect x="2031" y="921" width="212" height="74"/><text y="936"><tspan x="2037">组织了各班上了一节安全教育课，结合近年来</tspan><tspan x="2037" dy="13">的食物中毒事故、道路交通事故等典型事故案</tspan><tspan x="2037" dy="13">例展开讨论，举一反三，吸取教训，提高全校</tspan><tspan x="2037" dy="13">师生的事故防范措施，遏制和杜绝安全事故发</tspan><tspan x="2037" dy="13">生。</tspan></text></g>
<g id="p2-s4" class="n k2"><rect x="1890" y="1043" width="111" height="22"/><text x="1896" y="1058">四、组织了安全大排查</text></g>
<g id="p2-s4c" class="n k2"><rect x="2021" y="1017" width="212" height="74"/><text y="1032"><tspan x="2027">组织了全体教师对我校食堂、小卖部食品进行</tspan><tspan x="2027" dy="13">了大检查、电线乱拉乱接现象、卫生死角等各</tspan><tspan x="2027" dy="13">方面的大检查。通过多项检查学校安全隐患，</tspan><tspan x="2027" dy="13">提高老师查险除患意识和能力，不断提升学校</tspan><tspan x="2027" dy="13">安全工作管理能力。</tspan></text></g>
<g id="p2-s5" class="n k2"><rect x="1890" y="1144" width="121" height="22"/><text x="1896" y="1159">五、有针对性地开展活动</text></g>
<g id="p2-s5c" class="n k2"><rect x="2031" y="1118" width="212" height="74"/><text y="1133"><tspan x="2037">“安全生产月”活动期间，我们努力让活动贴近</tspan><tspan x="2037" dy="13">学生，贴近生活，突出重点，增强针对性。值</tspan><tspan x="2037" dy="13">周教师每天不定时的检查用电用水安全和治安</tspan><tspan x="2037" dy="13">安全情况，及时解决问题，落实安全工作措施</tspan><tspan x="2037" dy="13">，消除安全工作管理漏点、盲点。</tspan></text></g>
<g id="p2-s6" class="n k2"><rect x="1890" y="1246" width="161" height="22"/><text x="1896" y="1261">六、开展预防溺水教育活动周工作</text></g>
<g id="p2-s6c" class="n k2"><rect x="2072" y="1214" width="212" height="87"/><text y="1229"><tspan x="2078">认真组织开展预防溺水教育活动周工作，把“</tspan><tspan x="2078" dy="13">珍惜生命、预防溺水”作为主题，以班级为单</tspan><tspan x="2078" dy="13">位组织讨论，学校组织体育组教师进行游泳防</tspan><tspan x="2078" dy="13">溺水常识教育，给学生家长致信，告之学校作</tspan><tspan x="2078" dy="13">息时间和防溺水防范要求，学校与家庭、教师</tspan><tspan x="2078" dy="13">与家长联手共抓，杜绝学生溺水事故发生。</tspan></text></g>
<g id="p2-s7" class="n k2"><rect x="1890" y="1351" width="151" height="22"/><text x="1896" y="1366">七、开展安全隐患排查整治工作</text></g>
<g id="p2-s7c" class="n k2"><rect x="2061" y="1325" width="212" height="74"/><text y="1340"><tspan x="2067">我们按照上级要求，反复排查学校安全隐患，</tspan><tspan x="2067" dy="13">发现问题，及时整改。我们把学校食堂、校园</tspan><tspan x="2067" dy="13">设施、交通、住宿治安安全作为重点来抓，综</tspan><tspan x="2067" dy="13">合治理，努力打造平安校园，确保学校稳定和</tspan><tspan x="2067" dy="13">谐。</tspan></text></g>
<g id="p2-s8" class="n k2"><rect x="1890" y="1474" width="151" height="22"/><text x="1896" y="1489">八、开展食品卫生安全专项活动</text></g>
<g id="p2-s8c" class="n k2"><rect x="2061" y="1422" width="212" height="126"/><text y="1437"><tspan x="2067">学校在广泛宣传夏季传染病预防知识、食品卫</tspan><tspan x="2067" dy="13">生安全知识的同时，重点抓好学校食堂卫生安</tspan><tspan x="2067" dy="13">全工作，学校定期检查食堂卫生状况，了解食</tspan><tspan x="2067" dy="13">品原料采购、贮存、清洗、加工和成品出售等</tspan><tspan x="2067" dy="13">各个环节情况，检查工作人员、工作场所、设</tspan><tspan x="2067" dy="13">施环境卫生状况，及时反馈检查信息，督促经</tspan><tspan x="2067" dy="13">营者承包人对存在问题整改到位。切实履行工</tspan><tspan x="2067" dy="13">作职责，严格执行制度规章，杜绝发生食堂卫</tspan><tspan x="2067" dy="13">生安全事故。</tspan></text></g>
<g id="p2-s9" class="n k2"><rect x="1890" y="1652" width="182" height="22"/><text x="1896" y="1667">九、周密安排期末及暑期学校安全工作</text></g>
<g id="p2-s9a" class="n k2"><rect x="2092" y="1571" width="212" height="74"/><text y="1586"><tspan x="2098">暑假将至，我们根据上级要求和学校实际，进</tspan><tspan x="2098" dy="13">一步增强做好学校安全工作的责任感和自觉性</tspan><tspan x="2098" dy="13">，严格执行学校各项安全工作制度，自觉做好</tspan><tspan x="2098" dy="13">各项安全工作，确保整个学校思想不松、劲头</tspan><tspan x="2098" dy="13">不减、力度不弱、任务不拖。</tspan></text></g>
<g id="p2-s9b" class="n k2"><rect x="2092" y="1667" width="212" height="100"/><text y="1682"><tspan x="2098">总之，校园安全，责任重于泰山，在以“强化</tspan><tspan x="2098" dy="13">安全基础，推动安全发展”为主题的安全活动</tspan><tspan x="2098" dy="13">月中，我校通过开展一系列丰富多彩的活动，</tspan><tspan x="2098" dy="13">使学校的安全工作更加规范、有序，师生的安</tspan><tspan x="2098" dy="13">全意识进一步增强，为学校的安全稳定和各项</tspan><tspan x="2098" dy="13">工作的顺利开展打下了坚</tspan><tspan x="2098" dy="13">实的基础。</tspan></text></g>

<!-- 篇4 -->
<g id="p4-a" class="n k4"><rect x="1658" y="1792" width="212" height="152"/><text y="1807"><tspan x="1664">学校安全工作直接关系着学生的安危、家庭的</tspan><tspan x="1664" dy="13">幸福、社会的稳定。因此，做好学校安全工作</tspan><tspan x="1664" dy="13">，创造一个安全的学习环境是十分重要的。要</tspan><tspan x="1664" dy="13">确保安全，根本在于提高学生的安全意识、自</tspan><tspan x="1664" dy="13">我防范意识和自护自救能力。抓好安全教育，</tspan><tspan x="1664" dy="13">是学校安全工作的基础。所以做为一名专职安</tspan><tspan x="1664" dy="13">全老师，我一直十分重视安全教育工作。平日</tspan><tspan x="1664" dy="13">里,不但对他们进行安全知识教育，而且在课</tspan><tspan x="1664" dy="13">余时间我也注意去观察他们的动静，只要发现</tspan><tspan x="1664" dy="13">了某个学生有不安全的行为，就及时进行教育</tspan><tspan x="1664" dy="13">。</tspan></text></g>
<g id="p4-b" class="n k4"><rect x="1658" y="2013" width="81" height="22"/><text x="1664" y="2028">具体工作如下：</text></g>
<g id="p4-bc" class="n k4"><rect x="1758" y="1967" width="212" height="113"/><text y="1982"><tspan x="1764">一、认真做好安全教育工作。我始终把安全工</tspan><tspan x="1764" dy="13">作放在首位，做到时时讲安全，事事讲安全。</tspan><tspan x="1764" dy="13">教育学生无论是集体活动还是体育课，都必须</tspan><tspan x="1764" dy="13">在教师的带领下进行，不得随意离开集体自己</tspan><tspan x="1764" dy="13">活动或不听指挥，遇到他人生病、遇险等，要</tspan><tspan x="1764" dy="13">及时报告老师。并且指导学生学会使用各种求</tspan><tspan x="1764" dy="13">救电话。让学生从思想上重视安全，认识到安</tspan><tspan x="1764" dy="13">全的重要性。</tspan></text></g>
<g id="p4-c" class="n k4"><rect x="1658" y="2191" width="162" height="22"/><text x="1664" y="2206">二、结合《安全》教材开展教育。</text></g>
<g id="p4-c1" class="n k4"><rect x="1839" y="2103" width="213" height="74"/><text y="2118"><tspan x="1845">1.开展了饮食卫生安全教育。教育学生不买三</tspan><tspan x="1845" dy="13">无食品，不吃腐烂变质的食物，不喝不卫生的</tspan><tspan x="1845" dy="13">水和饮料，不吃陌生人给的东西。特别是让学</tspan><tspan x="1845" dy="13">生认识到了病菌引发的常见疾病，知道了正确</tspan><tspan x="1845" dy="13">洗手的重要性，学会了六步骤正确洗手法。</tspan></text></g>
<g id="p4-c2" class="n k4"><rect x="1839" y="2200" width="213" height="126"/><text y="2215"><tspan x="1845">2.开展了生活安全教育。教育学生不到危险区</tspan><tspan x="1845" dy="13">域玩耍;游戏、锻炼要防伤害;如厕也要注意安</tspan><tspan x="1845" dy="13">全，制定了如厕安全公约;知道如何预防校园</tspan><tspan x="1845" dy="13">欺凌;如何留意和应对天气变化;知道不与陌生</tspan><tspan x="1845" dy="13">人搭讪，不跟陌生人走，能识别坏人常用的伎</tspan><tspan x="1845" dy="13">俩;知道如何接触宠物，掌握了被宠物抓伤、</tspan><tspan x="1845" dy="13">咬伤后的应急处理方法。通过安全课上系统的</tspan><tspan x="1845" dy="13">教育，提高了广大学生的安全意识、安全防范</tspan><tspan x="1845" dy="13">能力和自我保护能力。</tspan></text></g>
<g id="p4-c2a" class="n k4"><rect x="2072" y="2227" width="212" height="74"/><text y="2242"><tspan x="2078">三、开展了丰富多彩的家校互动。利用每节课</tspan><tspan x="2078" dy="13">后的家校互动对学生开展安全预防教育，让家</tspan><tspan x="2078" dy="13">长全程参与同学们的安全学习，共同掌握安全</tspan><tspan x="2078" dy="13">知识，提高安全技能。让学生和家长都意识到</tspan><tspan x="2078" dy="13">安全第一，健康第一。</tspan></text></g>
<g id="p4-c2b" class="n k4"><rect x="2304" y="2234" width="211" height="61"/><text y="2249"><tspan x="2310">今后，关注学生的生存环境，关注学生的人身</tspan><tspan x="2310" dy="13">安全，仍将是未来学校工作的重点。我将进一</tspan><tspan x="2310" dy="13">步重视安全教育工作，尽心尽职做好安全教育</tspan><tspan x="2310" dy="13">工作。</tspan></text></g>

<!-- 篇6 -->
<g id="p6-g1" class="n k6"><rect x="1658" y="2389" width="70" height="22"/><text x="1664" y="2404">一、指导思想</text></g>
<g id="p6-g1c" class="n k6"><rect x="1749" y="2350" width="211" height="100"/><text y="2365"><tspan x="1755">通过开展安全教育，让一年级孩子了解危险的</tspan><tspan x="1755" dy="13">存在,知道躲避危险和求生、求助的简单方法</tspan><tspan x="1755" dy="13">、技能,强调个人安全，逐步形成安全意识，</tspan><tspan x="1755" dy="13">掌握必要的安全行为的知识和技能，养成在日</tspan><tspan x="1755" dy="13">常生活和突发安全事件中正确应对的习惯，最</tspan><tspan x="1755" dy="13">大限度地预防安全事故发生和减少安全事件对</tspan><tspan x="1755" dy="13">孩子造成的伤害，保障孩子健康成长。</tspan></text></g>
<g id="p6-g2" class="n k6"><rect x="1658" y="2597" width="70" height="22"/><text x="1664" y="2612">二、工作重点</text></g>
<g id="p6-g2c1" class="n k6"><rect x="1749" y="2472" width="211" height="35"/><text y="2487"><tspan x="1755">1、了解并遵守各种公共场所活动的安全常识</tspan><tspan x="1755" dy="13">。</tspan></text></g>
<g id="p6-g2c2" class="n k6"><rect x="1749" y="2530" width="211" height="35"/><text y="2545"><tspan x="1755">2、认识与陌生人交往中应当注意的安全问题</tspan><tspan x="1755" dy="13">，逐步形成基本的自我保护意识。</tspan></text></g>
<g id="p6-g2c3" class="n k6"><rect x="1749" y="2587" width="211" height="35"/><text y="2602"><tspan x="1755">3、了解基本公共卫生和饮食卫生常识，养成</tspan><tspan x="1755" dy="13">良好的个人卫生和健康行为及饮食习惯。</tspan></text></g>
<g id="p6-g2c4" class="n k6"><rect x="1749" y="2644" width="211" height="35"/><text y="2659"><tspan x="1755">4、初步识别各种危险标志;学习家用电器、煤</tspan><tspan x="1755" dy="13">气(柴火)、刀具等日常用品的安全使用方法。</tspan></text></g>
<g id="p6-g2c5" class="n k6"><rect x="1749" y="2703" width="211" height="48"/><text y="2718"><tspan x="1755">5、初步学会在事故灾害事件中自我保护和求</tspan><tspan x="1755" dy="13">助、求生的简单技能。学会正确使用和拨打1</tspan><tspan x="1755" dy="13">10、119、120电话。</tspan></text></g>
<g id="p6-g3" class="n k6"><rect x="1658" y="2899" width="70" height="22"/><text x="1664" y="2914">三、具体措施</text></g>
<g id="p6-g3c1" class="n k6"><rect x="1749" y="2774" width="211" height="35"/><text y="2789"><tspan x="1755">1、体育教师充分利用室内课，积极进行体育</tspan><tspan x="1755" dy="13">运动常识安全教育</tspan></text></g>
<g id="p6-g3c2" class="n k6"><rect x="1749" y="2872" width="211" height="35"/><text y="2887"><tspan x="1755">2、利用“周周讲”，强化安全意识，进行安全</tspan><tspan x="1755" dy="13">教育 ①防火安全教育</tspan></text></g>
<g id="p6-g3c2a" class="n k6"><rect x="1980" y="2832" width="91" height="22"/><text x="1986" y="2847">②、防毒安全教育</text></g>
<g id="p6-g3c2b" class="n k6"><rect x="1980" y="2879" width="91" height="22"/><text x="1986" y="2894">③、劳动安全教育</text></g>
<g id="p6-g3c2c" class="n k6"><rect x="1980" y="2924" width="91" height="22"/><text x="1986" y="2939">④、防电安全教育</text></g>
<g id="p6-g3c3" class="n k6"><rect x="1749" y="2969" width="166" height="22"/><text x="1755" y="2984">3、结合品德生活课，进行安全教育</text></g>
<g id="p6-g3c4" class="n k6"><rect x="1749" y="3014" width="156" height="22"/><text x="1755" y="3029">4、利用班会课进行日常安全教育</text></g>
<g id="p6-g4" class="n k6"><rect x="1658" y="3105" width="70" height="22"/><text x="1664" y="3120">四、工作实绩</text></g>
<g id="p6-g4c" class="n k6"><rect x="1749" y="3058" width="211" height="113"/><text y="3073"><tspan x="1755">基于全年级班主任和任课教师的共同努力，将</tspan><tspan x="1755" dy="13">安全责任意识当作工作的重心，爱校爱生，尤</tspan><tspan x="1755" dy="13">其是班主任老师，班级管理认真负责,从细微</tspan><tspan x="1755" dy="13">处入手,狠抓常规,做到早读跟班,课间跟班,上操</tspan><tspan x="1755" dy="13">跟班,集会跟班,放学跟班，有效减少了事故的</tspan><tspan x="1755" dy="13">发生。因此，尽管孩子们人数多、活动面积小</tspan><tspan x="1755" dy="13">，整个班级无一例事故发生，平安快乐地度过</tspan><tspan x="1755" dy="13">了小学阶段的第一个学期的学习生活。</tspan></text></g>
</svg>
